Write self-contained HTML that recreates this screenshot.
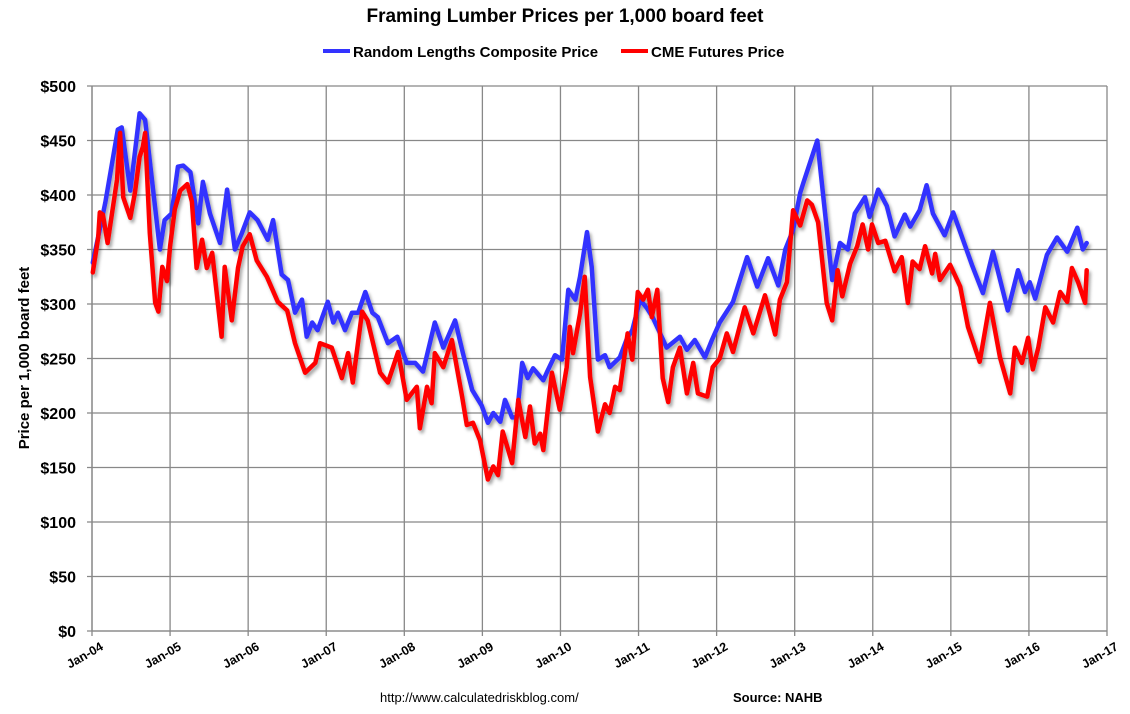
<!DOCTYPE html>
<html><head><meta charset="utf-8"><style>
body{margin:0;background:#fff;font-family:"Liberation Sans",Arial,sans-serif;}
svg text{font-family:"Liberation Sans",Arial,sans-serif;font-weight:bold;}
</style></head><body>
<svg id="chart" width="1130" height="709" xmlns="http://www.w3.org/2000/svg">
<defs><filter id="sh" x="-5%" y="-5%" width="110%" height="115%"><feDropShadow dx="2" dy="3" stdDeviation="1.5" flood-color="#000" flood-opacity="0.35"/></filter></defs>
<text x="565" y="22" text-anchor="middle" font-size="19">Framing Lumber Prices per 1,000 board feet</text>
<g>
<line x1="323" y1="51" x2="350" y2="51" stroke="#3333ff" stroke-width="4"/>
<text x="353" y="57" font-size="15">Random Lengths Composite Price</text>
<line x1="621" y1="51" x2="648" y2="51" stroke="#ff0000" stroke-width="4"/>
<text x="651" y="57" font-size="15">CME Futures Price</text>
</g>
<g id="grid"></g>
<g id="yticks"></g>
<g id="xticks"></g>
<text transform="translate(29,358) rotate(-90)" text-anchor="middle" font-size="15">Price per 1,000 board feet</text>
<g id="series" filter="url(#sh)"></g>
<text x="380" y="702" font-size="13" style="font-weight:normal">http://www.calculatedriskblog.com/</text>
<text x="733" y="702" font-size="13">Source: NAHB</text>
</svg>
<script>
const yTicks=[0,50,100,150,200,250,300,350,400,450,500];
const xTickLabels=["Jan-04","Jan-05","Jan-06","Jan-07","Jan-08","Jan-09","Jan-10","Jan-11","Jan-12","Jan-13","Jan-14","Jan-15","Jan-16","Jan-17"];
// years since Jan-2004
const blueT=[0.01,0.17,0.33,0.38,0.49,0.61,0.68,0.87,0.93,1.02,1.10,1.17,1.26,1.36,1.42,1.51,1.64,1.73,1.83,1.92,2.02,2.12,2.25,2.32,2.43,2.51,2.60,2.69,2.75,2.82,2.89,3.02,3.09,3.15,3.24,3.33,3.41,3.50,3.59,3.66,3.79,3.91,4.03,4.14,4.24,4.39,4.50,4.65,4.75,4.87,4.99,5.07,5.14,5.23,5.29,5.38,5.44,5.51,5.58,5.65,5.78,5.83,5.93,6.02,6.10,6.19,6.25,6.34,6.40,6.48,6.57,6.63,6.76,6.85,6.92,7.02,7.11,7.18,7.36,7.53,7.62,7.72,7.85,7.94,8.04,8.21,8.39,8.52,8.66,8.79,8.88,8.98,9.07,9.11,9.29,9.48,9.58,9.68,9.77,9.90,9.96,10.07,10.18,10.28,10.41,10.48,10.60,10.69,10.77,10.92,11.03,11.14,11.27,11.41,11.54,11.73,11.86,11.95,12.01,12.08,12.23,12.36,12.49,12.62,12.69,12.74];
const blueV=[338,393,460,462,404,475,469,350,377,383,426,427,421,374,412,383,356,405,350,365,384,377,359,377,327,322,292,304,270,283,276,302,283,292,276,292,292,311,292,288,264,270,246,246,238,283,260,285,255,221,207,191,200,192,212,196,196,246,232,241,230,238,253,249,313,304,325,366,334,249,253,242,251,268,276,304,296,288,260,270,258,267,251,267,283,302,343,316,342,317,350,368,402,411,450,322,356,350,383,398,380,405,390,362,382,371,386,409,383,363,384,362,336,310,348,294,331,311,320,305,345,361,348,370,350,356];
const redT=[0.01,0.08,0.10,0.14,0.20,0.32,0.36,0.40,0.49,0.55,0.61,0.65,0.68,0.74,0.81,0.85,0.90,0.96,1.00,1.06,1.13,1.22,1.28,1.34,1.41,1.47,1.54,1.66,1.70,1.79,1.87,1.93,2.02,2.11,2.24,2.38,2.50,2.60,2.73,2.86,2.92,3.07,3.20,3.28,3.34,3.46,3.53,3.69,3.79,3.92,4.03,4.16,4.20,4.29,4.35,4.39,4.50,4.61,4.74,4.80,4.88,4.97,5.07,5.14,5.20,5.26,5.38,5.46,5.55,5.61,5.67,5.74,5.78,5.89,5.99,6.08,6.12,6.16,6.25,6.31,6.38,6.48,6.57,6.63,6.70,6.76,6.86,6.92,6.99,7.06,7.12,7.17,7.24,7.31,7.38,7.44,7.53,7.62,7.70,7.76,7.88,7.95,8.04,8.13,8.21,8.36,8.47,8.62,8.75,8.81,8.90,8.98,9.07,9.16,9.22,9.30,9.41,9.48,9.55,9.61,9.71,9.80,9.87,9.94,9.99,10.07,10.16,10.28,10.37,10.45,10.51,10.60,10.67,10.76,10.80,10.86,10.99,11.12,11.22,11.37,11.50,11.63,11.76,11.82,11.91,11.99,12.05,12.12,12.21,12.31,12.40,12.49,12.55,12.63,12.72,12.74];
const redV=[329,361,384,382,356,414,457,398,379,402,435,444,457,365,301,293,334,321,353,387,404,410,394,333,359,333,347,270,334,285,333,353,364,340,325,302,294,264,237,246,264,260,232,255,228,293,285,237,228,256,212,224,186,224,209,255,242,267,215,189,191,175,139,151,143,183,154,212,178,206,172,181,166,237,203,242,279,255,291,325,233,183,208,200,224,221,273,249,311,304,313,288,313,232,210,242,260,218,246,218,215,242,250,273,256,297,273,308,272,304,320,386,372,395,391,375,301,285,331,307,337,353,373,350,373,356,358,330,343,301,339,332,353,328,346,322,336,316,279,247,301,251,218,260,246,269,240,260,297,283,311,302,333,320,301,331];
const X0=92,X1=1107,Y0=631,Y1=86;
const xs=t=>X0+t*(X1-X0)/13;
const ys=v=>Y0-v*(Y0-Y1)/500;
const NS="http://www.w3.org/2000/svg";
const grid=document.getElementById('grid'),yg=document.getElementById('yticks'),xg=document.getElementById('xticks'),sg=document.getElementById('series');
function mk(tag,attrs,parent){const e=document.createElementNS(NS,tag);for(const k in attrs)e.setAttribute(k,attrs[k]);parent.appendChild(e);return e;}
yTicks.forEach(v=>{
  const l=mk('line',{x1:X0-5,x2:X1,y1:ys(v),y2:ys(v),stroke:'#888','stroke-width':1.3},grid);
  
  
  const t=mk('text',{x:76,y:ys(v)+6,'text-anchor':'end','font-size':16},yg);
  t.textContent='$'+v;
  
  
});
xTickLabels.forEach((s,i)=>{
  const x=xs(i);
  const l=mk('line',{x1:x,x2:x,y1:Y1,y2:Y0+5,stroke:'#888','stroke-width':1.3},grid);
  
  
  const t=mk('text',{transform:`translate(${x+12},${Y0+18}) rotate(-30)`,'text-anchor':'end','font-size':12.5},xg);
  t.textContent=s;
  
  
});
mk('line',{x1:X0,x2:X0,y1:Y1,y2:Y0,stroke:'#888','stroke-width':1.3},grid);
mk('line',{x1:X0,x2:X1,y1:Y0,y2:Y0,stroke:'#888','stroke-width':1.3},grid);
function draw(T,V,color,name){
  const d=T.map((t,i)=>(i?'L':'M')+xs(t).toFixed(1)+','+ys(V[i]).toFixed(1)).join('');
  const p=mk('path',{d:d,fill:'none',stroke:color,'stroke-width':4.5,'stroke-linejoin':'round','stroke-linecap':'round'},sg);
  
  
}
draw(blueT,blueV,'#3333ff','random-lengths-line');
draw(redT,redV,'#ff0000','cme-futures-line');
</script>
</body></html>
